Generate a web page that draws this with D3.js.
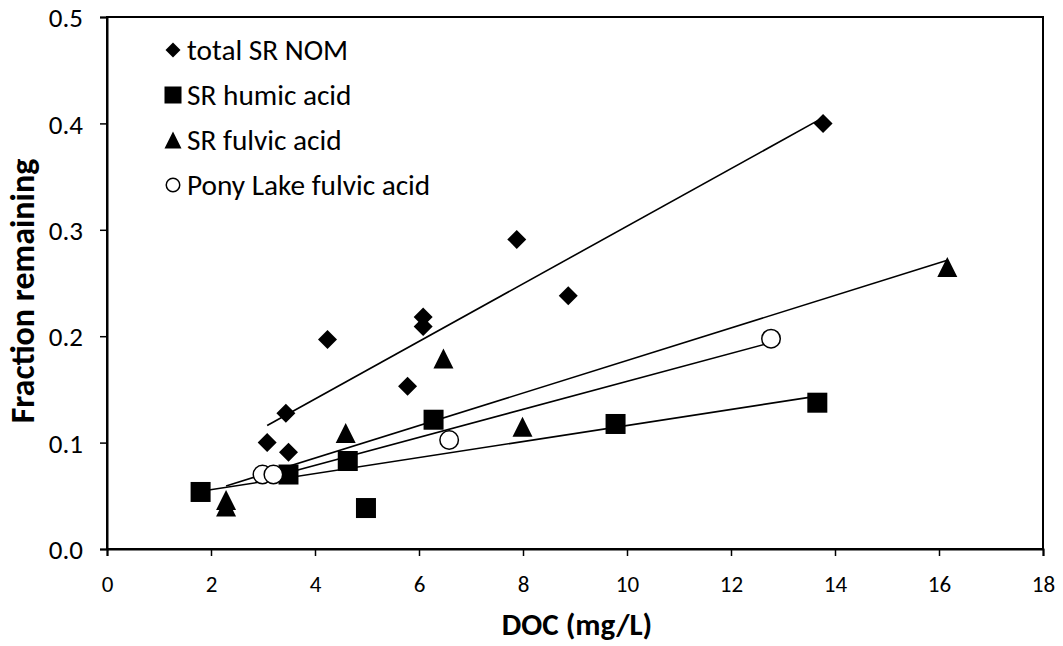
<!DOCTYPE html>
<html>
<head>
<meta charset="utf-8">
<script src="https://cdn.jsdelivr.net/npm/d3@7"></script>
<style>
  body { margin: 0; background: #fff; }
  svg { display: block; }
  text { font-family: Carlito, Calibri, Lato, "Open Sans", sans-serif; fill: #000; }
</style>
</head>
<body>
<svg id="chart" width="1063" height="646"></svg>
<script>
// ---- data ----
const seriesNames = ["total SR NOM", "SR humic acid", "SR fulvic acid", "Pony Lake fulvic acid"];
const nomX = [3.08, 3.44, 3.49, 4.24, 5.78, 6.08, 6.08, 7.88, 8.87, 13.77];
const nomY = [0.100, 0.1275, 0.091, 0.197, 0.153, 0.218, 0.209, 0.291, 0.238, 0.400];
const humicX = [1.80, 3.49, 4.63, 4.98, 6.28, 9.78, 13.66];
const humicY = [0.0536, 0.070, 0.0827, 0.0385, 0.1215, 0.1175, 0.1375];
const fulvicX = [2.29, 2.29, 4.59, 6.47, 7.99, 16.16];
const fulvicY = [0.046, 0.040, 0.109, 0.179, 0.115, 0.265];
const ponyX = [2.99, 3.20, 6.58, 12.77];
const ponyY = [0.070, 0.070, 0.1024, 0.1977];
const xTicks = [0, 2, 4, 6, 8, 10, 12, 14, 16, 18];
const yTicks = [0.0, 0.1, 0.2, 0.3, 0.4, 0.5];
const xTitle = "DOC (mg/L)";
const yTitle = "Fraction remaining";

const series = [
  { name: seriesNames[0], xs: nomX, ys: nomY, shape: "diamond" },
  { name: seriesNames[1], xs: humicX, ys: humicY, shape: "square" },
  { name: seriesNames[2], xs: fulvicX, ys: fulvicY, shape: "triangle" },
  { name: seriesNames[3], xs: ponyX, ys: ponyY, shape: "circle" }
];

// ---- layout ----
const svg = d3.select("#chart");
const pL = 107, pR = 1043, pT = 17, pB = 549;

const x = d3.scaleLinear().domain([0, 18]).range([pL, pR]);
const y = d3.scaleLinear().domain([0, 0.5]).range([pB, pT]);

// plot border
svg.append("rect")
  .attr("x", pL).attr("y", pT)
  .attr("width", pR - pL).attr("height", pB - pT)
  .attr("fill", "none").attr("stroke", "#000").attr("stroke-width", 2);

// axes
const xAxis = d3.axisBottom(x).tickValues(xTicks).tickFormat(d3.format("d")).tickSizeOuter(0).tickSize(7).tickPadding(20);
const gx = svg.append("g").attr("transform", `translate(0,${pB})`).call(xAxis)
  .attr("font-size", null).attr("font-family", null);
gx.select(".domain").attr("stroke-width", 2);
gx.selectAll(".tick line").attr("stroke-width", 1.5);
gx.selectAll(".tick text").style("font-size", "23px");

const yAxis = d3.axisLeft(y).tickValues(yTicks).tickFormat(d3.format(".1f")).tickSizeOuter(0).tickSize(7).tickPadding(17);
const gy = svg.append("g").attr("transform", `translate(${pL},0)`).call(yAxis)
  .attr("font-size", null).attr("font-family", null);
gy.select(".domain").attr("stroke-width", 2);
gy.selectAll(".tick line").attr("stroke-width", 1.5);
gy.selectAll(".tick text").style("font-size", "27px").attr("dy", "0.36em");

// titles
svg.append("text")
  .attr("x", 577).attr("y", 635)
  .attr("text-anchor", "middle")
  .style("font-size", "31px").style("font-weight", "bold")
  .text(xTitle);
svg.append("text")
  .attr("transform", `translate(34,291) rotate(-90)`)
  .attr("text-anchor", "middle")
  .style("font-size", "34px").style("font-weight", "bold")
  .text(yTitle);

// trendlines (least squares over each series' data, spanning its x range)
function fit(xs, ys) {
  const mx = d3.mean(xs), my = d3.mean(ys);
  let sxy = 0, sxx = 0;
  xs.forEach((v, i) => { sxy += (v - mx) * (ys[i] - my); sxx += (v - mx) * (v - mx); });
  const b = sxy / sxx, a = my - b * mx;
  return v => a + b * v;
}
const line = d3.line().x(d => x(d[0])).y(d => y(d[1]));
series.forEach(s => {
  const f = fit(s.xs, s.ys);
  const [x0, x1] = d3.extent(s.xs);
  svg.append("path")
    .attr("d", line([[x0, f(x0)], [x1, f(x1)]]))
    .attr("fill", "none").attr("stroke", "#000").attr("stroke-width", 1.6);
});

// markers
function drawMarker(g, shape, cx, cy, size) {
  if (shape === "diamond") {
    const r = size * 0.5;
    g.append("path").attr("d", `M${cx},${cy - r}L${cx + r},${cy}L${cx},${cy + r}L${cx - r},${cy}Z`).attr("fill", "#000");
  } else if (shape === "square") {
    const h = size * 0.5;
    g.append("rect").attr("x", cx - h).attr("y", cy - h).attr("width", size).attr("height", size).attr("fill", "#000");
  } else if (shape === "triangle") {
    const h = size * 0.5;
    g.append("path").attr("d", `M${cx},${cy - h}L${cx + h},${cy + h}L${cx - h},${cy + h}Z`).attr("fill", "#000");
  } else {
    g.append("circle").attr("cx", cx).attr("cy", cy).attr("r", size * 0.5 - 0.75)
      .attr("fill", "#fff").attr("stroke", "#000").attr("stroke-width", 1.5);
  }
}
const markerSize = { diamond: 19, square: 20, triangle: 20, circle: 20 };
const gm = svg.append("g");
series.forEach(s => {
  s.xs.forEach((v, i) => drawMarker(gm, s.shape, x(v), y(s.ys[i]), markerSize[s.shape]));
});

// legend
const legendSize = { diamond: 15, square: 17, triangle: 17, circle: 15 };
const lg = svg.append("g");
series.forEach((s, i) => {
  const cy = 50 + i * 45;
  drawMarker(lg, s.shape, 173, cy, legendSize[s.shape]);
  lg.append("text").attr("x", 187).attr("y", cy + 10)
    .style("font-size", "29.3px").text(s.name);
});
</script>
</body>
</html>
